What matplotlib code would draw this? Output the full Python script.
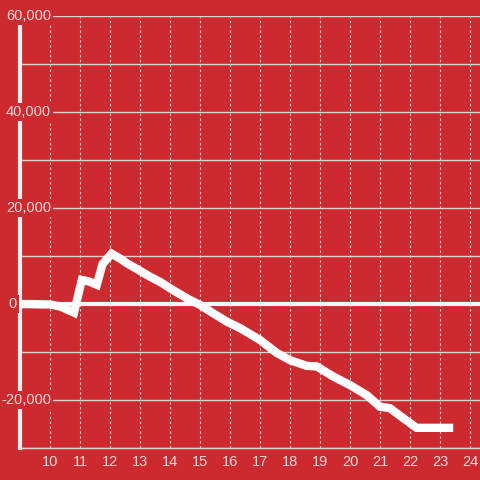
import matplotlib.pyplot as plt
import matplotlib.transforms as mtransforms

# Values (hour of day vs running total)
hours = [9.0, 10.0, 10.33, 10.8, 11.06, 11.3, 11.56, 11.75, 12.05, 12.3,
         12.56, 13.06, 13.33, 13.67, 14.1, 14.56, 15.0, 15.43, 15.9, 16.33,
         17.0, 17.56, 18.0, 18.56, 18.89, 19.44, 20.0, 20.56, 21.0, 21.33,
         21.78, 22.22, 23.44]
values = [0, -100, -500, -1800, 5000, 4700, 4000, 8300, 10500, 9600,
          8500, 6700, 5700, 4600, 2900, 1200, -200, -1900, -3700, -5000,
          -7500, -10200, -11700, -12900, -13000, -15100, -16900, -19000, -21400, -21700,
          -23800, -25800, -25800]

x_ticks = list(range(10, 25))
y_grid = list(range(-30000, 60001, 10000))
y_labels = [60000, 40000, 20000, 0, -20000]

bg = '#cc2a2f'
txt = '#f6dada'
grid_col = '#e2cfcf'

plt.rcParams['font.family'] = ['Liberation Sans', 'DejaVu Sans']

fig = plt.figure(figsize=(4.8, 4.8), dpi=100, facecolor=bg)
ax = fig.add_axes([20 / 480, 32 / 480, 460 / 480, 432 / 480])
ax.set_facecolor(bg)
ax.set_xlim(9, 9 + 460 / 30)
ax.set_ylim(-30000, 60000)

for s in ['top', 'right']:
    ax.spines[s].set_visible(False)
ax.spines['left'].set_color('#f4eded')
ax.spines['left'].set_linewidth(3)
ax.spines['left'].set_zorder(2)
ax.spines['bottom'].set_color(grid_col)
ax.spines['bottom'].set_linewidth(1)

# grid
for v in y_grid:
    if v == 0:
        ax.axhline(v, color='white', lw=3, zorder=3)
    else:
        ax.axhline(v, color=grid_col, lw=1, zorder=1)
ax.set_xticks(x_ticks)
ax.set_yticks([])
ax.grid(axis='x', color=grid_col, lw=0.8, linestyle=(0, (2.2, 2.2)), zorder=1)
ax.tick_params(axis='x', length=0, labelsize=10.5, labelcolor=txt, pad=5)

# y labels sit on top of the axis with a background box
trans = mtransforms.blended_transform_factory(ax.transAxes, ax.transData)
for v in y_labels:
    if v == 0:
        xpos = (17 - 20) / 460
    else:
        xpos = (51 - 20) / 460
    ax.text(xpos, v, f'{v:,}', transform=trans, ha='right', va='center',
            fontsize=10.5, color=txt, zorder=5, clip_on=False,
            bbox=dict(boxstyle='square,pad=0.15', fc=bg, ec='none'))

ax.plot(hours, values, color='white', lw=6, solid_capstyle='butt',
        solid_joinstyle='miter', zorder=4, clip_on=False)

fig.savefig('out.png', dpi=100, facecolor=bg)
